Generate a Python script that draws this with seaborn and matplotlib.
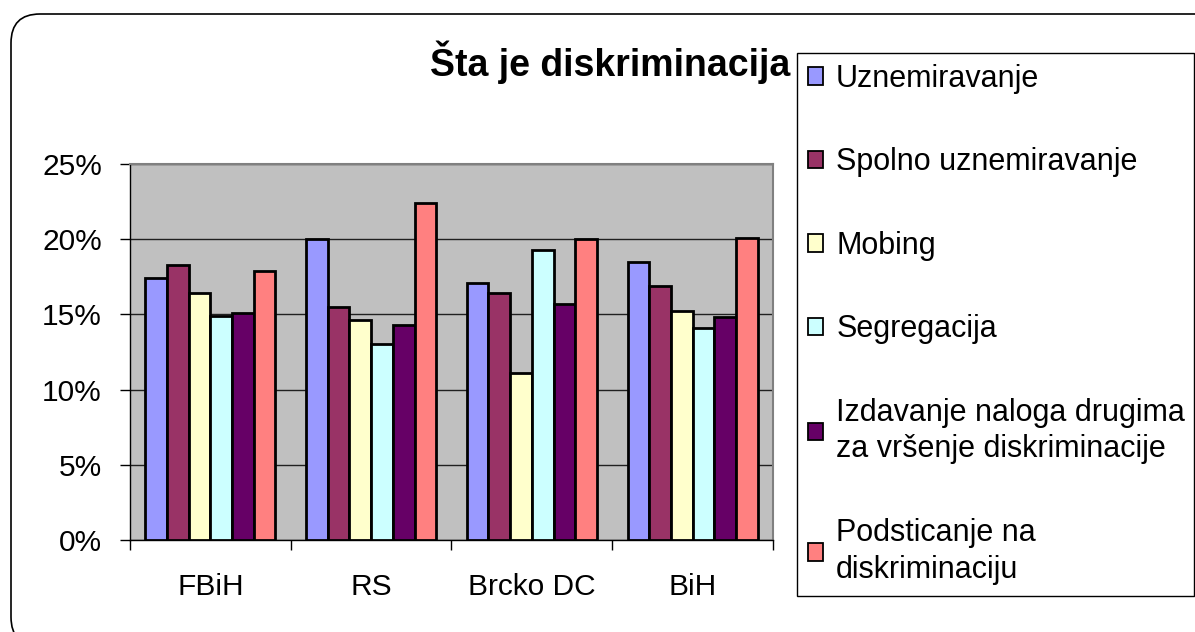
import pandas as pd
import seaborn as sns
import matplotlib
import matplotlib.pyplot as plt
from matplotlib.patches import Patch, FancyBboxPatch
from matplotlib.ticker import PercentFormatter, FixedLocator

matplotlib.use('Agg')

# Data (percent)
regions = ["FBiH", "RS", "Brcko DC", "BiH"]
series_names = [
    "Uznemiravanje",
    "Spolno uznemiravanje",
    "Mobing",
    "Segregacija",
    "Izdavanje naloga drugima za vršenje diskriminacije",
    "Podsticanje na diskriminaciju",
]
legend_labels = [
    "Uznemiravanje",
    "Spolno uznemiravanje",
    "Mobing",
    "Segregacija",
    "Izdavanje naloga drugima\nza vršenje diskriminacije",
    "Podsticanje na\ndiskriminaciju",
]
uznemiravanje = [17.4, 20.0, 17.1, 18.5]
spolno = [18.3, 15.5, 16.4, 16.9]
mobing = [16.4, 14.6, 11.1, 15.2]
segregacija = [14.9, 13.0, 19.3, 14.1]
izdavanje = [15.1, 14.3, 15.7, 14.8]
podsticanje = [17.9, 22.4, 20.0, 20.1]
colors = ["#9999FF", "#993366", "#FFFFCC", "#CCFFFF", "#660066", "#FF8080"]

values = [uznemiravanje, spolno, mobing, segregacija, izdavanje, podsticanje]
rows = []
for name, vals in zip(series_names, values):
    for reg, v in zip(regions, vals):
        rows.append({"Region": reg, "Kategorija": name, "Procenat": v})
df = pd.DataFrame(rows)

sns.set_style("white")
plt.rcParams['font.family'] = ['Liberation Sans', 'DejaVu Sans']
plt.rcParams['text.color'] = 'black'
plt.rcParams['xtick.color'] = 'black'
plt.rcParams['ytick.color'] = 'black'
plt.rcParams['axes.labelcolor'] = 'black'

fig = plt.figure(figsize=(11.95, 6.32), dpi=100)
ax = fig.add_axes([130 / 1195, 92 / 632, 643 / 1195, 376 / 632])
ax.set_facecolor("#C0C0C0")

sns.barplot(
    data=df, x="Region", y="Procenat", hue="Kategorija",
    order=regions, hue_order=series_names, palette=colors, saturation=1,
    width=0.81, edgecolor="black", linewidth=2.0, errorbar=None,
    legend=False, ax=ax, zorder=3
)

# Axes styling
ax.set_xlim(-0.5, len(regions) - 0.5)
ax.set_ylim(0, 25)
ax.set_yticks([0, 5, 10, 15, 20, 25])
ax.yaxis.set_major_formatter(PercentFormatter(xmax=100, decimals=0))
ax.grid(axis="y", color="#202020", linewidth=1.0, zorder=0)
ax.set_axisbelow(True)
ax.set_xlabel("")
ax.set_ylabel("")

ax.tick_params(axis="y", which="major", direction="out", length=7.2, width=1,
               color="black", labelsize=21.5, pad=13, left=True)
ax.tick_params(axis="x", which="major", length=0, labelsize=21.5, pad=24)
ax.xaxis.set_minor_locator(FixedLocator([i - 0.5 for i in range(len(regions) + 1)]))
ax.tick_params(axis="x", which="minor", direction="out", length=7.2, width=1,
               color="black", bottom=True)

for side in ["left", "bottom"]:
    ax.spines[side].set_visible(True)
    ax.spines[side].set_color("black")
    ax.spines[side].set_linewidth(1.0)
for side in ["top", "right"]:
    ax.spines[side].set_visible(True)
    ax.spines[side].set_color("#808080")
    ax.spines[side].set_linewidth(1.5)

# Title (sits under the legend box)
fig.text(610 / 1195, 1 - 62 / 632, "Šta je diskriminacija", ha="center", va="center",
         fontsize=27, fontweight="bold", color="black", zorder=1)

# Legend
handles = [Patch(facecolor=c, edgecolor="black", linewidth=1.3) for c in colors]
leg = fig.legend(
    handles, legend_labels,
    loc="upper left",
    bbox_to_anchor=(797 / 1195, 1 - 591 / 632, (1194 - 797) / 1195, (591 - 53) / 632),
    mode="expand", borderaxespad=0, fontsize=22,
    handlelength=0.5, handleheight=0.5, handletextpad=0.43,
    labelspacing=1.75, borderpad=0.35,
    frameon=True, fancybox=False, framealpha=1, edgecolor="black",
)
for t in leg.get_texts():
    t.set_linespacing(1.3)
leg.get_frame().set_linewidth(1.0)
leg.set_zorder(5)

# Rounded outer chart frame
frame = FancyBboxPatch((11, -14), 1225, 632, boxstyle="round,pad=0,rounding_size=29",
                       transform=None, facecolor="none", edgecolor="black",
                       linewidth=1.2, zorder=0)
fig.add_artist(frame)

plt.savefig("out.png", dpi=100)
plt.close()
